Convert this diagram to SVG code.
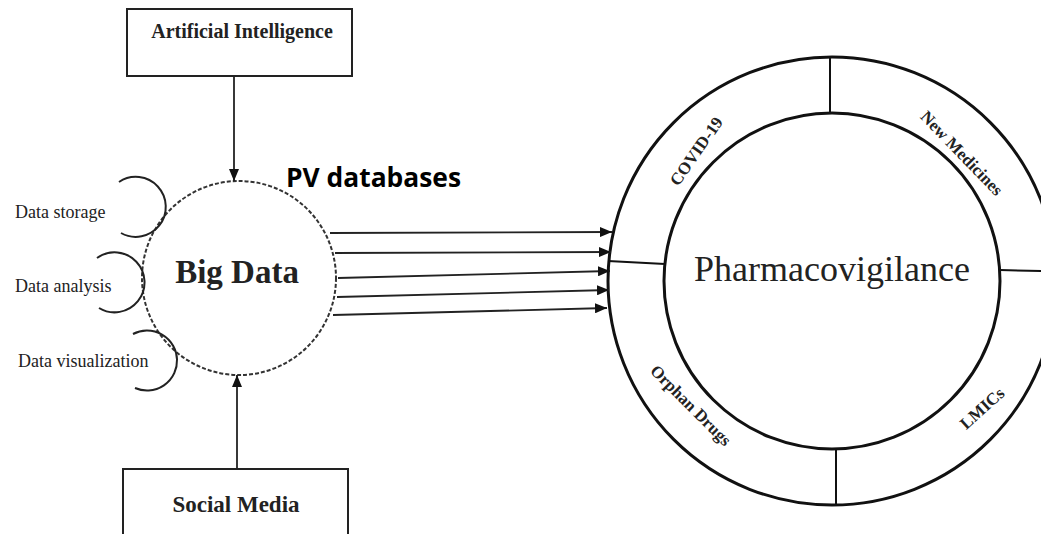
<svg xmlns="http://www.w3.org/2000/svg" width="1041" height="534" viewBox="0 0 1041 534">
  <style>
    .serif { font-family: "Liberation Serif", "Times New Roman", serif; fill: #222; }
    .bold { font-weight: bold; }
    .box { fill: #fff; stroke: #222; stroke-width: 2; }
    .ring { fill: none; stroke: #111; stroke-width: 3; }
    .divider { stroke: #111; stroke-width: 2; }
    .link { fill: none; stroke: #222; stroke-width: 1.8; }
    .loop { fill: none; stroke: #222; stroke-width: 2; }
    .sector { font-size: 17px; }
    .pv { font-family: "Open Sans", "Liberation Sans", sans-serif; font-weight: bold; fill: #000; }
  </style>
  <defs>
    <marker id="head" markerUnits="userSpaceOnUse" markerWidth="12" markerHeight="10" refX="12" refY="5" orient="auto">
      <path d="M0,0 L12,5 L0,10 z" fill="#111"/>
    </marker>
  </defs>

  <rect width="1041" height="534" fill="#fff"/>

  <!-- Artificial Intelligence box -->
  <g id="node-ai">
    <rect class="box" x="127" y="9" width="225" height="67"/>
    <text class="serif bold" x="242" y="38" font-size="20" text-anchor="middle">Artificial Intelligence</text>
  </g>

  <!-- Social Media box (runs off the bottom edge) -->
  <g id="node-social">
    <rect class="box" x="123" y="469" width="225" height="80"/>
    <text class="serif bold" x="236" y="512" font-size="23" text-anchor="middle">Social Media</text>
  </g>

  <!-- Big Data hub with its three side loops -->
  <g id="node-bigdata">
    <circle cx="239" cy="278" r="97" fill="#fff" stroke="#333" stroke-width="2" stroke-dasharray="4 2"/>
    <text class="serif bold" x="237" y="283" font-size="33" text-anchor="middle">Big Data</text>
  </g>

  <g id="node-storage">
    <path class="loop" d="M119,182 A30,30 0 1,1 121,233"/>
    <text class="serif" x="15" y="218" font-size="18">Data storage</text>
  </g>
  <g id="node-analysis">
    <path class="loop" d="M97,258 A30,30 0 1,1 99,308"/>
    <text class="serif" x="15" y="292" font-size="18">Data analysis</text>
  </g>
  <g id="node-visualization">
    <path class="loop" d="M133,334 A30,30 0 1,1 135,388"/>
    <text class="serif" x="18" y="367" font-size="18">Data visualization</text>
  </g>

  <g id="label-pv">
    <text class="pv" x="286" y="187" font-size="26" textLength="175" lengthAdjust="spacingAndGlyphs">PV databases</text>
  </g>

  <!-- Pharmacovigilance ring with four sectors -->
  <g id="node-pharmacovigilance">
    <circle class="ring" cx="832" cy="281" r="224"/>
    <circle class="ring" cx="832" cy="281" r="168"/>
    <line class="divider" x1="830" y1="57" x2="830" y2="113"/>
    <line class="divider" x1="836" y1="448" x2="836" y2="505"/>
    <line class="divider" x1="608" y1="261" x2="665" y2="264"/>
    <line class="divider" x1="1000" y1="270" x2="1041" y2="271"/>
    <text class="serif" x="832" y="281" font-size="36" text-anchor="middle">Pharmacovigilance</text>
  </g>

  <g id="sector-covid">
    <text class="serif bold sector" text-anchor="middle" transform="translate(696,151) rotate(-55)" y="6">COVID-19</text>
  </g>
  <g id="sector-new-medicines">
    <text class="serif bold sector" text-anchor="middle" transform="translate(962,153) rotate(46)" y="6">New Medicines</text>
  </g>
  <g id="sector-orphan">
    <text class="serif bold sector" text-anchor="middle" transform="translate(691,405) rotate(45)" y="6">Orphan Drugs</text>
  </g>
  <g id="sector-lmics">
    <text class="serif bold sector" text-anchor="middle" transform="translate(982,408) rotate(-42)" y="6">LMICs</text>
  </g>

  <!-- Connectors -->
  <g id="connectors">
    <line class="link" x1="234" y1="76" x2="234" y2="181" marker-end="url(#head)"/>
    <line class="link" x1="237" y1="469" x2="237" y2="375" marker-end="url(#head)"/>
    <line class="link" x1="330" y1="233" x2="612" y2="232" marker-end="url(#head)"/>
    <line class="link" x1="335" y1="253" x2="611" y2="252" marker-end="url(#head)"/>
    <line class="link" x1="338" y1="278" x2="610" y2="271" marker-end="url(#head)"/>
    <line class="link" x1="337" y1="297" x2="609" y2="290" marker-end="url(#head)"/>
    <line class="link" x1="333" y1="315" x2="607" y2="308" marker-end="url(#head)"/>
  </g>
</svg>
